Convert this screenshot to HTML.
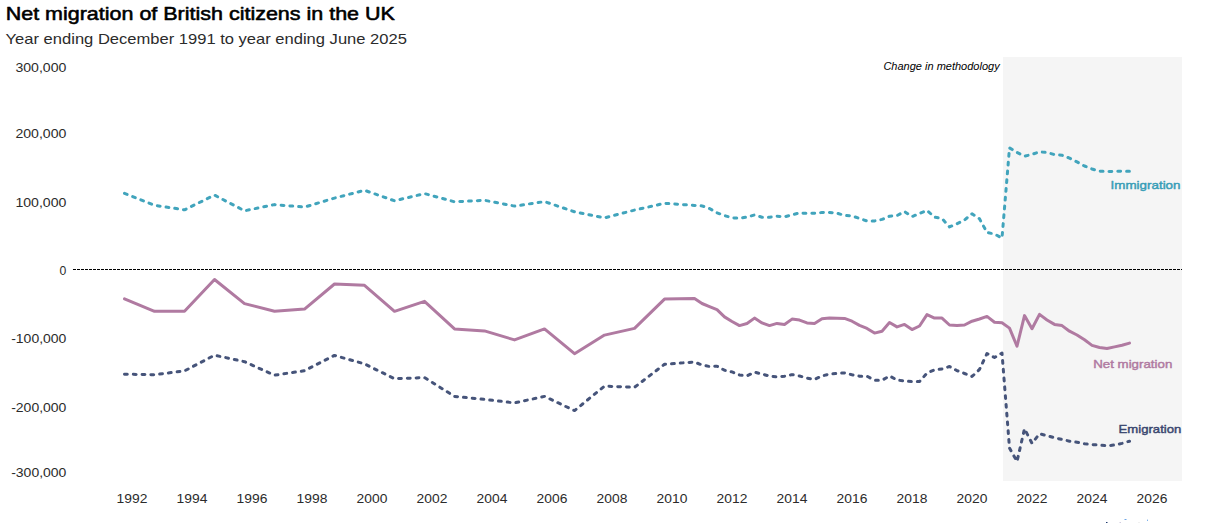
<!DOCTYPE html>
<html><head><meta charset="utf-8"><title>Net migration of British citizens in the UK</title>
<style>html,body{margin:0;padding:0;background:#fff}body{width:1208px;height:523px;overflow:hidden}svg{display:block}text{font-family:"Liberation Sans",sans-serif}</style></head><body>
<svg width="1208" height="523" viewBox="0 0 1208 523">
<rect x="0" y="0" width="1208" height="523" fill="#ffffff"/>
<rect x="1003" y="57" width="179" height="424" fill="#f5f5f5"/>
<text x="5.7" y="19.8" font-size="18.4" font-weight="400" fill="#000" stroke="#000" stroke-width="0.55" stroke-linejoin="round" textLength="389.2" lengthAdjust="spacingAndGlyphs">Net migration of British citizens in the UK</text>
<text x="5.6" y="43.8" font-size="14.6" fill="#2b2b2b" textLength="401.3" lengthAdjust="spacingAndGlyphs">Year ending December 1991 to year ending June 2025</text>
<text x="15.4" y="72" font-size="12.2" fill="#2b2b2b" textLength="51" lengthAdjust="spacingAndGlyphs">300,000</text>
<text x="15.4" y="138" font-size="12.2" fill="#2b2b2b" textLength="51" lengthAdjust="spacingAndGlyphs">200,000</text>
<text x="15.4" y="207" font-size="12.2" fill="#2b2b2b" textLength="51" lengthAdjust="spacingAndGlyphs">100,000</text>
<text x="59.6" y="274.5" font-size="12.2" fill="#2b2b2b" textLength="6.8" lengthAdjust="spacingAndGlyphs">0</text>
<text x="11.2" y="342.8" font-size="12.2" fill="#2b2b2b" textLength="55.2" lengthAdjust="spacingAndGlyphs">-100,000</text>
<text x="11.2" y="412" font-size="12.2" fill="#2b2b2b" textLength="55.2" lengthAdjust="spacingAndGlyphs">-200,000</text>
<text x="11.2" y="477" font-size="12.2" fill="#2b2b2b" textLength="55.2" lengthAdjust="spacingAndGlyphs">-300,000</text>
<text x="116.6" y="503" font-size="12.2" fill="#2b2b2b" textLength="30.8" lengthAdjust="spacingAndGlyphs">1992</text>
<text x="176.6" y="503" font-size="12.2" fill="#2b2b2b" textLength="30.8" lengthAdjust="spacingAndGlyphs">1994</text>
<text x="236.6" y="503" font-size="12.2" fill="#2b2b2b" textLength="30.8" lengthAdjust="spacingAndGlyphs">1996</text>
<text x="296.6" y="503" font-size="12.2" fill="#2b2b2b" textLength="30.8" lengthAdjust="spacingAndGlyphs">1998</text>
<text x="356.6" y="503" font-size="12.2" fill="#2b2b2b" textLength="30.8" lengthAdjust="spacingAndGlyphs">2000</text>
<text x="416.6" y="503" font-size="12.2" fill="#2b2b2b" textLength="30.8" lengthAdjust="spacingAndGlyphs">2002</text>
<text x="476.6" y="503" font-size="12.2" fill="#2b2b2b" textLength="30.8" lengthAdjust="spacingAndGlyphs">2004</text>
<text x="536.6" y="503" font-size="12.2" fill="#2b2b2b" textLength="30.8" lengthAdjust="spacingAndGlyphs">2006</text>
<text x="596.6" y="503" font-size="12.2" fill="#2b2b2b" textLength="30.8" lengthAdjust="spacingAndGlyphs">2008</text>
<text x="656.6" y="503" font-size="12.2" fill="#2b2b2b" textLength="30.8" lengthAdjust="spacingAndGlyphs">2010</text>
<text x="716.6" y="503" font-size="12.2" fill="#2b2b2b" textLength="30.8" lengthAdjust="spacingAndGlyphs">2012</text>
<text x="776.6" y="503" font-size="12.2" fill="#2b2b2b" textLength="30.8" lengthAdjust="spacingAndGlyphs">2014</text>
<text x="836.6" y="503" font-size="12.2" fill="#2b2b2b" textLength="30.8" lengthAdjust="spacingAndGlyphs">2016</text>
<text x="896.6" y="503" font-size="12.2" fill="#2b2b2b" textLength="30.8" lengthAdjust="spacingAndGlyphs">2018</text>
<text x="956.6" y="503" font-size="12.2" fill="#2b2b2b" textLength="30.8" lengthAdjust="spacingAndGlyphs">2020</text>
<text x="1016.6" y="503" font-size="12.2" fill="#2b2b2b" textLength="30.8" lengthAdjust="spacingAndGlyphs">2022</text>
<text x="1076.6" y="503" font-size="12.2" fill="#2b2b2b" textLength="30.8" lengthAdjust="spacingAndGlyphs">2024</text>
<text x="1136.6" y="503" font-size="12.2" fill="#2b2b2b" textLength="30.8" lengthAdjust="spacingAndGlyphs">2026</text>
<line x1="73" y1="269.5" x2="1182" y2="269.5" stroke="#000" stroke-width="1" stroke-dasharray="3 1" shape-rendering="crispEdges"/>
<text x="883.4" y="70.1" font-size="11.5" font-style="italic" fill="#000" textLength="116.3" lengthAdjust="spacingAndGlyphs">Change in methodology</text>
<path d="M124.5,193.3 L154.5,205.3 L184.5,209.8 L214.5,195.1 L244.5,210.8 L274.5,204.6 L304.5,207.1 L334.5,198.1 L364.5,190.3 L394.5,200.8 L424.5,193.6 L454.5,201.8 L484.5,200.3 L514.5,206.1 L544.5,201.6 L574.5,211.8 L604.5,217.9 L634.5,210.1 L664.5,203.3 L694.5,205.4 L702.0,205.9 L709.5,208.5 L717.0,212.8 L724.5,215.6 L732.0,217.8 L739.5,218.2 L747.0,217.0 L754.5,215.0 L762.0,217.2 L769.5,217.2 L777.0,216.2 L784.5,216.8 L792.0,214.8 L799.5,213.0 L807.0,213.4 L814.5,213.2 L822.0,212.5 L829.5,212.4 L837.0,213.2 L844.5,215.4 L852.0,215.9 L859.5,218.5 L867.0,221.0 L874.5,221.0 L882.0,219.4 L889.5,216.2 L897.0,215.6 L904.5,211.6 L912.0,216.6 L919.5,213.5 L927.0,210.4 L934.5,217.2 L942.0,218.5 L949.5,226.9 L957.0,223.8 L964.5,220.0 L972.0,213.8 L979.5,218.8 L987.0,232.5 L994.5,234.0 L1002.0,238.1 L1009.5,147.9 L1017.0,152.5 L1024.5,156.2 L1032.0,154.4 L1039.5,151.9 L1047.0,152.5 L1054.5,154.6 L1062.0,155.2 L1069.5,158.1 L1077.0,161.9 L1084.5,166.0 L1092.0,169.0 L1099.5,171.2 L1107.0,171.5 L1114.5,171.4 L1122.0,171.2 L1129.5,171.2" fill="none" stroke="#41a4bc" stroke-width="3" stroke-linecap="round" stroke-linejoin="round" stroke-dasharray="2.8 6"/>
<path d="M124.5,298.8 L154.5,311.3 L184.5,311.3 L214.5,279.5 L244.5,303.6 L274.5,311.3 L304.5,309.1 L334.5,284.0 L364.5,285.3 L394.5,311.3 L424.5,301.3 L454.5,328.9 L484.5,330.9 L514.5,339.9 L544.5,328.9 L574.5,353.7 L604.5,335.1 L634.5,328.4 L664.5,299.1 L694.5,298.5 L702.0,303.5 L709.5,306.6 L717.0,309.6 L724.5,316.9 L732.0,321.5 L739.5,325.6 L747.0,323.5 L754.5,318.1 L762.0,322.9 L769.5,325.6 L777.0,323.4 L784.5,324.4 L792.0,319.1 L799.5,320.1 L807.0,322.9 L814.5,323.5 L822.0,318.8 L829.5,318.1 L837.0,318.2 L844.5,318.4 L852.0,321.2 L859.5,325.4 L867.0,328.4 L874.5,333.1 L882.0,331.2 L889.5,322.5 L897.0,326.9 L904.5,324.4 L912.0,329.6 L919.5,326.0 L927.0,314.6 L934.5,318.1 L942.0,318.1 L949.5,325.0 L957.0,325.6 L964.5,325.0 L972.0,321.2 L979.5,319.0 L987.0,316.4 L994.5,322.2 L1002.0,322.8 L1009.5,328.1 L1017.0,346.2 L1024.5,315.6 L1032.0,328.8 L1039.5,314.4 L1047.0,320.0 L1054.5,324.4 L1062.0,325.6 L1069.5,331.2 L1077.0,335.0 L1084.5,339.8 L1092.0,345.4 L1099.5,347.5 L1107.0,348.5 L1114.5,346.9 L1122.0,345.2 L1129.5,343.1" fill="none" stroke="#b07aa1" stroke-width="3" stroke-linecap="round" stroke-linejoin="round"/>
<path d="M124.5,374.2 L154.5,374.7 L184.5,370.9 L214.5,355.2 L244.5,361.7 L274.5,375.2 L304.5,370.7 L334.5,355.4 L364.5,363.9 L394.5,378.7 L424.5,377.6 L454.5,396.4 L484.5,399.4 L514.5,402.9 L544.5,396.4 L574.5,410.6 L604.5,386.1 L634.5,387.3 L664.5,364.3 L694.5,362.0 L702.0,365.0 L709.5,366.5 L717.0,366.2 L724.5,370.2 L732.0,371.9 L739.5,375.0 L747.0,375.9 L754.5,372.2 L762.0,374.0 L769.5,376.1 L777.0,376.9 L784.5,376.2 L792.0,374.6 L799.5,376.0 L807.0,378.1 L814.5,379.4 L822.0,375.9 L829.5,374.1 L837.0,373.4 L844.5,372.9 L852.0,374.8 L859.5,376.2 L867.0,376.2 L874.5,380.2 L882.0,380.2 L889.5,376.0 L897.0,380.0 L904.5,381.0 L912.0,381.6 L919.5,381.6 L927.0,373.1 L934.5,369.8 L942.0,369.0 L949.5,366.5 L957.0,370.6 L964.5,373.5 L972.0,376.5 L979.5,369.4 L987.0,353.5 L994.5,357.5 L1002.0,353.1 L1009.5,448.0 L1017.0,461.5 L1024.5,428.8 L1032.0,443.3 L1039.5,433.8 L1047.0,435.6 L1054.5,437.8 L1062.0,439.4 L1069.5,441.2 L1077.0,442.2 L1084.5,443.8 L1092.0,444.6 L1099.5,445.0 L1107.0,445.8 L1114.5,445.0 L1122.0,443.4 L1129.5,441.2" fill="none" stroke="#46547a" stroke-width="3" stroke-linecap="round" stroke-linejoin="round" stroke-dasharray="2.8 6"/>
<text x="1110.6" y="189" font-size="11.8" fill="#379db7" stroke="#379db7" stroke-width="0.45" stroke-linejoin="round" textLength="69.9" lengthAdjust="spacingAndGlyphs">Immigration</text>
<text x="1093.2" y="367.8" font-size="11.8" fill="#b07aa1" stroke="#b07aa1" stroke-width="0.45" stroke-linejoin="round" textLength="79.1" lengthAdjust="spacingAndGlyphs">Net migration</text>
<text x="1118.6" y="432.8" font-size="11.8" fill="#39466f" stroke="#39466f" stroke-width="0.45" stroke-linejoin="round" textLength="62.7" lengthAdjust="spacingAndGlyphs">Emigration</text>
<rect x="1106" y="522" width="1.5" height="1" fill="#1f3a6e"/>
<rect x="1124.5" y="519" width="2" height="1" fill="#6ea6e6"/>
<rect x="1147" y="519.6" width="1" height="1.4" fill="#7db2ec"/>
<rect x="1119.5" y="522" width="1.5" height="1" fill="#d2cde0"/>
<rect x="1138.5" y="522" width="1" height="1" fill="#e2e2e2"/>
</svg></body></html>
